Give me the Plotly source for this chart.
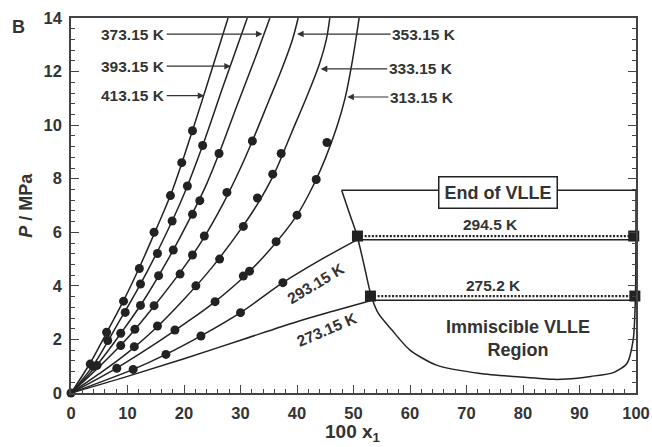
import plotly.graph_objects as go

# ---------------- data (100 x1, P / MPa) ----------------
iso_names = ["413.15 K", "393.15 K", "373.15 K", "353.15 K", "333.15 K", "313.15 K", "293.15 K", "273.15 K"]

# measured points
dots_413_x = [3.4, 6.3, 9.3, 12.1, 14.7, 17.6, 19.6, 21.5]
dots_413_y = [1.08, 2.27, 3.43, 4.65, 6.0, 7.37, 8.6, 9.79]
dots_393_x = [3.9, 6.5, 9.6, 12.3, 15.3, 17.9, 20.6, 23.3]
dots_393_y = [1.0, 1.96, 3.01, 4.07, 5.21, 6.42, 7.73, 9.24]
dots_373_x = [4.6, 8.8, 12.3, 15.5, 18.1, 21.5, 22.8, 26.2]
dots_373_y = [1.03, 2.23, 3.27, 4.38, 5.34, 6.67, 7.18, 8.94]
dots_353_x = [8.8, 11.3, 14.7, 19.3, 21.5, 23.6, 27.6, 32.1]
dots_353_y = [1.77, 2.38, 3.26, 4.44, 5.15, 5.86, 7.49, 9.41]
dots_333_x = [11.2, 15.3, 22.1, 26.3, 30.5, 33.0, 35.7, 37.2]
dots_333_y = [1.73, 2.5, 4.0, 5.0, 6.22, 7.28, 8.17, 8.94]
dots_313_x = [8.1, 18.4, 25.5, 30.5, 31.6, 36.3, 40.0, 43.4, 45.3]
dots_313_y = [0.92, 2.35, 3.41, 4.37, 4.55, 5.65, 6.64, 7.97, 9.35]
dots_293_x = [0.0, 11.0, 16.8, 23.0, 30.0, 37.5]
dots_293_y = [0.0, 0.88, 1.44, 2.13, 3.0, 4.12]

# model isotherm curves
line_413_x = [0, 3.4, 6.3, 9.3, 12.0, 15.0, 18.0, 21.5, 24.6, 27.8]
line_413_y = [0, 1.12, 2.25, 3.45, 4.64, 6.08, 7.6, 9.8, 11.85, 14.0]
line_393_x = [0, 4.0, 8.0, 12.0, 16.0, 20.0, 23.3, 27.0, 31.2]
line_393_y = [0, 1.05, 2.48, 3.95, 5.58, 7.42, 9.24, 11.5, 14.0]
line_373_x = [0, 4.5, 9.0, 13.0, 17.0, 21.0, 24.0, 26.2, 29.5, 32.5, 35.2]
line_373_y = [0, 1.02, 2.28, 3.5, 4.92, 6.5, 7.8, 8.94, 10.8, 12.45, 14.0]
line_353_x = [0, 5.0, 10.0, 15.0, 20.0, 23.0, 27.0, 30.0, 32.1, 35.0, 37.5, 39.2, 40.2]
line_353_y = [0, 0.98, 2.05, 3.32, 4.7, 5.62, 7.1, 8.4, 9.41, 10.9, 12.2, 13.2, 14.0]
line_333_x = [0, 5.0, 10.0, 15.0, 20.0, 25.0, 30.0, 33.0, 36.0, 39.0, 42.0, 44.0, 45.2, 45.8]
line_333_y = [0, 0.72, 1.5, 2.42, 3.5, 4.7, 6.1, 7.05, 8.2, 9.7, 11.2, 12.3, 13.2, 14.0]
line_313_x = [0, 8.0, 15.0, 20.0, 25.0, 30.0, 35.0, 40.0, 43.0, 45.0, 47.0, 48.5, 49.8, 51.0]
line_313_y = [0, 0.92, 1.85, 2.57, 3.33, 4.22, 5.3, 6.64, 7.8, 8.75, 9.9, 11.0, 12.4, 14.0]
line_293_x = [0, 11.0, 16.8, 23.0, 30.0, 37.5, 44.0, 50.6]
line_293_y = [0, 0.88, 1.44, 2.13, 3.0, 4.12, 4.95, 5.72]
line_273_x = [0, 10, 20, 30, 40, 46.5, 53.3]
line_273_y = [0, 0.62, 1.28, 1.97, 2.66, 3.06, 3.46]
flat_293_x = [50.6, 100]
flat_293_y = [5.72, 5.72]
flat_273_x = [53.3, 100]
flat_273_y = [3.46, 3.46]

# VLLE boundary
bound_x = [47.9, 49.25, 50.6, 51.9, 53.1, 54.4, 56.8, 60.0, 64.7, 72.4, 79.5, 85.4, 87.7, 92.0, 96.0, 98.4, 99.5, 99.9, 100.0]
bound_y = [7.57, 6.73, 5.9, 4.75, 3.65, 2.97, 2.35, 1.6, 1.04, 0.73, 0.6, 0.51, 0.52, 0.62, 0.76, 1.1, 1.98, 3.6, 7.57]
end_vlle_x = [47.9, 100]
end_vlle_y = [7.57, 7.57]

# three-phase tie lines
tie_names = ["294.5 K", "275.2 K"]
tie_294_x = [50.7, 99.6]
tie_294_y = [5.86, 5.86]
tie_275_x = [53.0, 99.8]
tie_275_y = [3.62, 3.62]

INK = "#222222"
TXT = "#333333"
FONT = "Liberation Sans, Arial, sans-serif"

fig = go.Figure()

lines = [(line_413_x, line_413_y), (line_393_x, line_393_y), (line_373_x, line_373_y),
         (line_353_x, line_353_y), (line_333_x, line_333_y), (line_313_x, line_313_y),
         (line_293_x, line_293_y), (line_273_x, line_273_y)]
for (lx, ly), nm in zip(lines, iso_names):
    fig.add_trace(go.Scatter(x=lx, y=ly, mode="lines", name=nm,
                             line=dict(color=INK, width=1.5, shape="spline", smoothing=1.0)))
for fx, fy in [(flat_293_x, flat_293_y), (flat_273_x, flat_273_y)]:
    fig.add_trace(go.Scatter(x=fx, y=fy, mode="lines", line=dict(color=INK, width=1.5)))

fig.add_trace(go.Scatter(x=bound_x, y=bound_y, mode="lines",
                         line=dict(color=INK, width=1.5, shape="spline", smoothing=0.7)))
fig.add_trace(go.Scatter(x=end_vlle_x, y=end_vlle_y, mode="lines", line=dict(color=INK, width=1.5)))

for tx, ty in [(tie_294_x, tie_294_y), (tie_275_x, tie_275_y)]:
    fig.add_trace(go.Scatter(x=tx, y=ty, mode="lines",
                             line=dict(color=INK, width=2.2, dash="2px,1.6px")))
    fig.add_trace(go.Scatter(x=tx, y=ty, mode="markers", cliponaxis=False,
                             marker=dict(symbol="square", size=11, color=INK)))

dots = [(dots_413_x, dots_413_y), (dots_393_x, dots_393_y), (dots_373_x, dots_373_y),
        (dots_353_x, dots_353_y), (dots_333_x, dots_333_y), (dots_313_x, dots_313_y),
        (dots_293_x, dots_293_y)]
for dx, dy in dots:
    fig.add_trace(go.Scatter(x=dx, y=dy, mode="markers", cliponaxis=False,
                             marker=dict(symbol="circle", size=9, color=INK)))

ann = []
# arrow labels: (text, label x, label y, tip x, tip y)
arrow_labels = [
    (iso_names[2], 11.0, 13.4, 33.9, 13.4),
    (iso_names[1], 11.0, 12.2, 28.3, 12.2),
    (iso_names[0], 11.0, 11.1, 23.6, 11.1),
    (iso_names[3], 62.5, 13.4, 40.0, 13.4),
    (iso_names[4], 61.9, 12.1, 44.2, 12.1),
    (iso_names[5], 62.1, 11.05, 48.9, 11.05),
]
for t, lx, ly, tx, ty in arrow_labels:
    ann.append(dict(x=tx, y=ty, ax=lx, ay=ly, xref="x", yref="y", axref="x", ayref="y",
                    text="<b>%s</b>" % t, showarrow=True, arrowhead=2, arrowsize=1.1,
                    arrowwidth=1.2, arrowcolor=TXT, font=dict(family=FONT, size=15.5, color=TXT)))

ann.append(dict(x=43.3, y=4.1, xref="x", yref="y", text="<b>%s</b>" % iso_names[6], showarrow=False,
                textangle=-31, font=dict(family=FONT, size=15.5, color=TXT)))
ann.append(dict(x=45.3, y=2.38, xref="x", yref="y", text="<b>%s</b>" % iso_names[7], showarrow=False,
                textangle=-23, font=dict(family=FONT, size=15.5, color=TXT)))
ann.append(dict(x=74.2, y=6.3, xref="x", yref="y", text="<b>%s</b>" % tie_names[0], showarrow=False,
                font=dict(family=FONT, size=15.5, color=TXT)))
ann.append(dict(x=74.7, y=4.02, xref="x", yref="y", text="<b>%s</b>" % tie_names[1], showarrow=False,
                font=dict(family=FONT, size=15.5, color=TXT)))
ann.append(dict(x=75.5, y=7.5, xref="x", yref="y", text="<b>End of VLLE</b>", showarrow=False,
                bgcolor="white", bordercolor=INK, borderwidth=1.5, borderpad=5,
                font=dict(family=FONT, size=18, color=TXT)))
ann.append(dict(x=79.1, y=2.05, xref="x", yref="y", text="<b>Immiscible VLLE<br>Region</b>", showarrow=False,
                font=dict(family=FONT, size=18, color=TXT)))
ann.append(dict(x=-0.093, y=0.977, xref="paper", yref="paper", xanchor="center", yanchor="middle",
                text="<b>B</b>", showarrow=False, font=dict(family=FONT, size=18, color=TXT)))
ann.append(dict(x=0.499, y=-0.107, xref="paper", yref="paper", xanchor="center", yanchor="middle",
                text="<b>100 x<sub>1</sub></b>", showarrow=False, font=dict(family=FONT, size=19, color=TXT)))
ann.append(dict(x=-0.081, y=0.5, xref="paper", yref="paper", xanchor="center", yanchor="middle",
                text="<b><i>P</i> / MPa</b>", showarrow=False, textangle=-90,
                font=dict(family=FONT, size=18, color=TXT)))

fig.update_layout(
    width=652, height=447, margin=dict(l=71, r=16, t=18, b=54, autoexpand=False),
    paper_bgcolor="white", plot_bgcolor="white", showlegend=False,
    annotations=ann,
    xaxis=dict(range=[0, 100], dtick=10, showgrid=False, zeroline=False, automargin=False,
               showline=True, linecolor="#444", linewidth=1.5, mirror=True,
               ticks="inside", ticklen=8, tickwidth=1.2, tickcolor="#444",
               minor=dict(dtick=2, ticks="inside", ticklen=4, tickcolor="#444", tickwidth=1),
               tickfont=dict(family=FONT, size=16.5, color=TXT, weight="bold"), ticklabelstandoff=4),
    yaxis=dict(range=[0, 14], dtick=2, showgrid=False, zeroline=False, automargin=False,
               showline=True, linecolor="#444", linewidth=1.5, mirror="ticks",
               ticks="inside", ticklen=8, tickwidth=1.2, tickcolor="#444",
               minor=dict(dtick=0.4, ticks="inside", ticklen=4, tickcolor="#444", tickwidth=1),
               tickfont=dict(family=FONT, size=16.5, color=TXT, weight="bold"), ticklabelstandoff=4),
)

fig.write_html("out.html", config={"displayModeBar": False},
               post_script="document.body.style.margin='0';document.body.style.overflow='hidden';")
